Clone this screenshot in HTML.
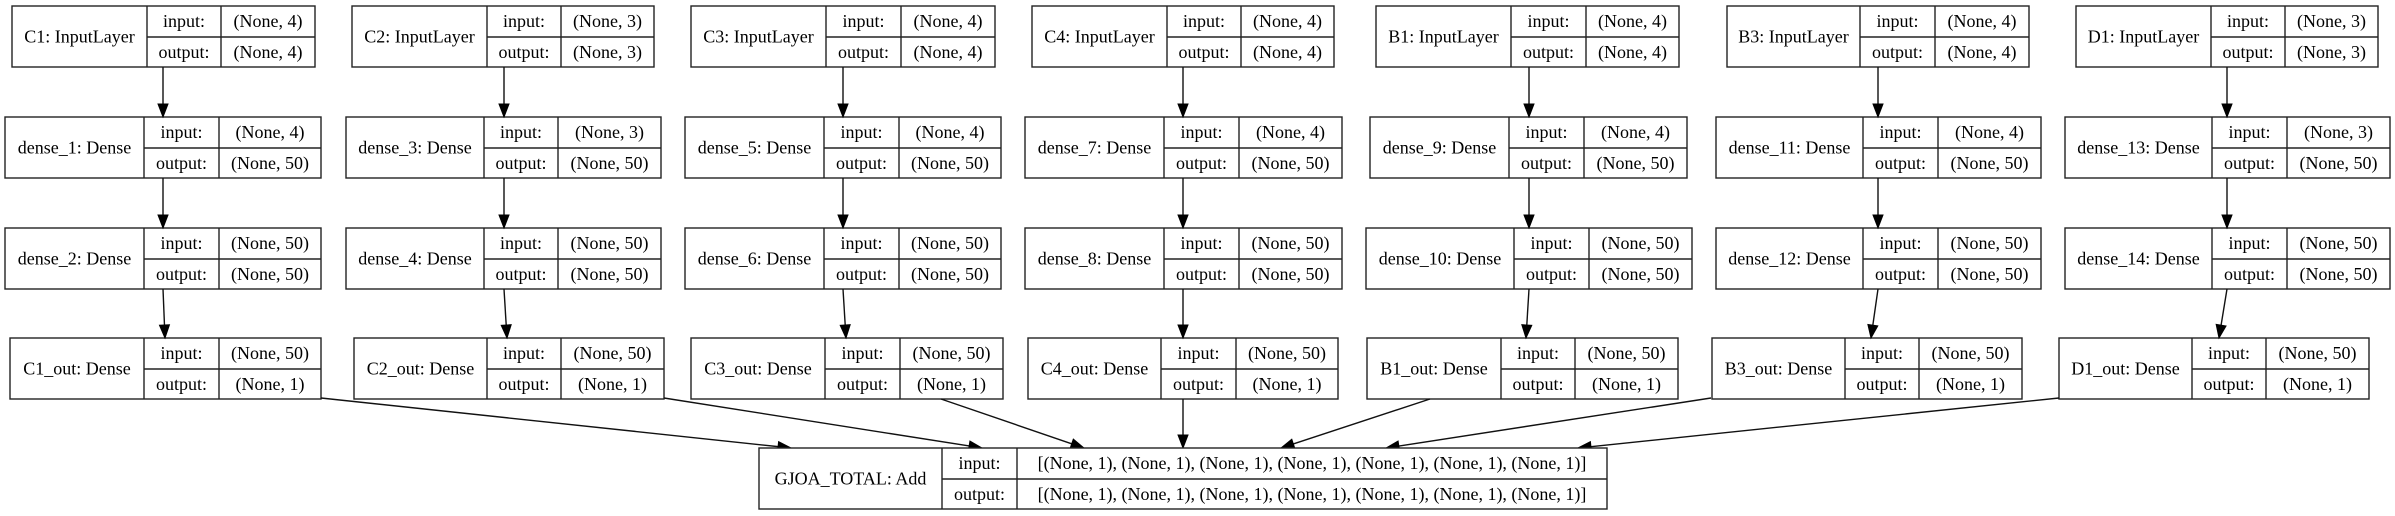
<!DOCTYPE html>
<html><head><meta charset="utf-8"><style>
html,body{margin:0;padding:0;background:#fff;}
svg{display:block;}
text{font-family:"Liberation Serif",serif;font-size:18px;fill:#000;}
</style></head><body>
<svg id="g" width="2395" height="516" viewBox="0 0 2395 516" xmlns="http://www.w3.org/2000/svg"></svg>
<script>
const rowsY = [6, 117, 228, 338];
const inputNames = ["C1: InputLayer","C2: InputLayer","C3: InputLayer","C4: InputLayer","B1: InputLayer","B3: InputLayer","D1: InputLayer"];
const dense1Names = ["dense_1: Dense","dense_3: Dense","dense_5: Dense","dense_7: Dense","dense_9: Dense","dense_11: Dense","dense_13: Dense"];
const dense2Names = ["dense_2: Dense","dense_4: Dense","dense_6: Dense","dense_8: Dense","dense_10: Dense","dense_12: Dense","dense_14: Dense"];
const outNames = ["C1_out: Dense","C2_out: Dense","C3_out: Dense","C4_out: Dense","B1_out: Dense","B3_out: Dense","D1_out: Dense"];
const inDims = ["(None, 4)","(None, 3)","(None, 4)","(None, 4)","(None, 4)","(None, 4)","(None, 3)"];
const boxInput = [[12,147,221,315],[352,487,561,654],[691,826,901,995],[1032,1167,1241,1334],[1376,1511,1586,1679],[1727,1860,1935,2029],[2076,2211,2285,2378]];
const boxD1 = [[5,144,219,321],[346,484,558,661],[685,824,899,1001],[1025,1164,1239,1342],[1370,1509,1584,1687],[1716,1863,1938,2041],[2065,2212,2287,2390]];
const boxD2 = [[5,144,219,321],[346,484,558,661],[685,824,899,1001],[1025,1164,1239,1342],[1366,1514,1589,1692],[1716,1863,1938,2041],[2065,2212,2287,2390]];
const boxOut = [[10,144,219,321],[354,487,561,664],[691,825,900,1003],[1028,1161,1236,1338],[1367,1501,1575,1678],[1712,1845,1919,2022],[2059,2192,2266,2369]];
const colX = [163,504,843,1183,1529,1878,2227];
const outTopX = [165,507,846,1183,1526,1871,2219];
const addStart = [[321,398],[664,398],[941,399],[1183,399],[1430,399],[1711,398],[2059,398]];
const addEnd = [791,982,1084,1183,1281,1386,1578];
const addBox = [759,942,1017,1607];
const addY = 448;
const addList = "[(None, 1), (None, 1), (None, 1), (None, 1), (None, 1), (None, 1), (None, 1)]";

const svg = document.getElementById('g');
const NS = "http://www.w3.org/2000/svg";
function mk(tag, attrs, parent){const e=document.createElementNS(NS,tag);for(const k in attrs)e.setAttribute(k,attrs[k]);(parent||svg).appendChild(e);return e;}
function txt(x,y,s,parent){const t=mk('text',{x:x,y:y,'text-anchor':'middle'},parent);t.textContent=s;return t;}

function box(b, y, label, inp, out, name){
  const g = mk('g',{});
  
  
  const h = 61, mid = y + 31;
  mk('rect',{x:b[0],y:y,width:b[3]-b[0],height:h,fill:'#fff',stroke:'#222','stroke-width':1.4},g);
  mk('line',{x1:b[1],y1:y,x2:b[1],y2:y+h,stroke:'#222','stroke-width':1.4},g);
  mk('line',{x1:b[2],y1:y,x2:b[2],y2:y+h,stroke:'#222','stroke-width':1.4},g);
  mk('line',{x1:b[1],y1:mid,x2:b[3],y2:mid,stroke:'#222','stroke-width':1.4},g);
  txt((b[0]+b[1])/2, y+h/2+6, label, g);
  txt((b[1]+b[2])/2, y+21, "input:", g);
  txt((b[1]+b[2])/2, mid+21, "output:", g);
  txt((b[2]+b[3])/2, y+21, inp, g);
  txt((b[2]+b[3])/2, mid+21, out, g);
}
function arrow(x1,y1,x2,y2,name){
  const g = mk('g',{});
  
  
  const dx=x2-x1, dy=y2-y1, L=Math.hypot(dx,dy), ux=dx/L, uy=dy/L;
  const hl=13, hw=5;
  const bx=x2-ux*hl, by=y2-uy*hl;
  mk('line',{x1:x1,y1:y1,x2:bx,y2:by,stroke:'#111','stroke-width':1.4},g);
  mk('polygon',{points:`${x2},${y2} ${bx-uy*hw},${by+ux*hw} ${bx+uy*hw},${by-ux*hw}`,fill:'#000',stroke:'#000','stroke-width':1},g);
}

for(let i=0;i<7;i++){
  box(boxInput[i], rowsY[0], inputNames[i], inDims[i], inDims[i], 'input-layer-'+(i+1));
  box(boxD1[i], rowsY[1], dense1Names[i], inDims[i], "(None, 50)", 'dense-a-'+(i+1));
  box(boxD2[i], rowsY[2], dense2Names[i], "(None, 50)", "(None, 50)", 'dense-b-'+(i+1));
  box(boxOut[i], rowsY[3], outNames[i], "(None, 50)", "(None, 1)", 'out-layer-'+(i+1));
  arrow(colX[i], rowsY[0]+61, colX[i], rowsY[1], 'edge-input-dense-'+(i+1));
  arrow(colX[i], rowsY[1]+61, colX[i], rowsY[2], 'edge-dense-dense-'+(i+1));
  arrow(colX[i], rowsY[2]+61, outTopX[i], rowsY[3], 'edge-dense-out-'+(i+1));
  arrow(addStart[i][0], addStart[i][1], addEnd[i], addY, 'edge-out-add-'+(i+1));
}
box(addBox, addY, "GJOA_TOTAL: Add", addList, addList, 'add-layer');
</script>
</body></html>
